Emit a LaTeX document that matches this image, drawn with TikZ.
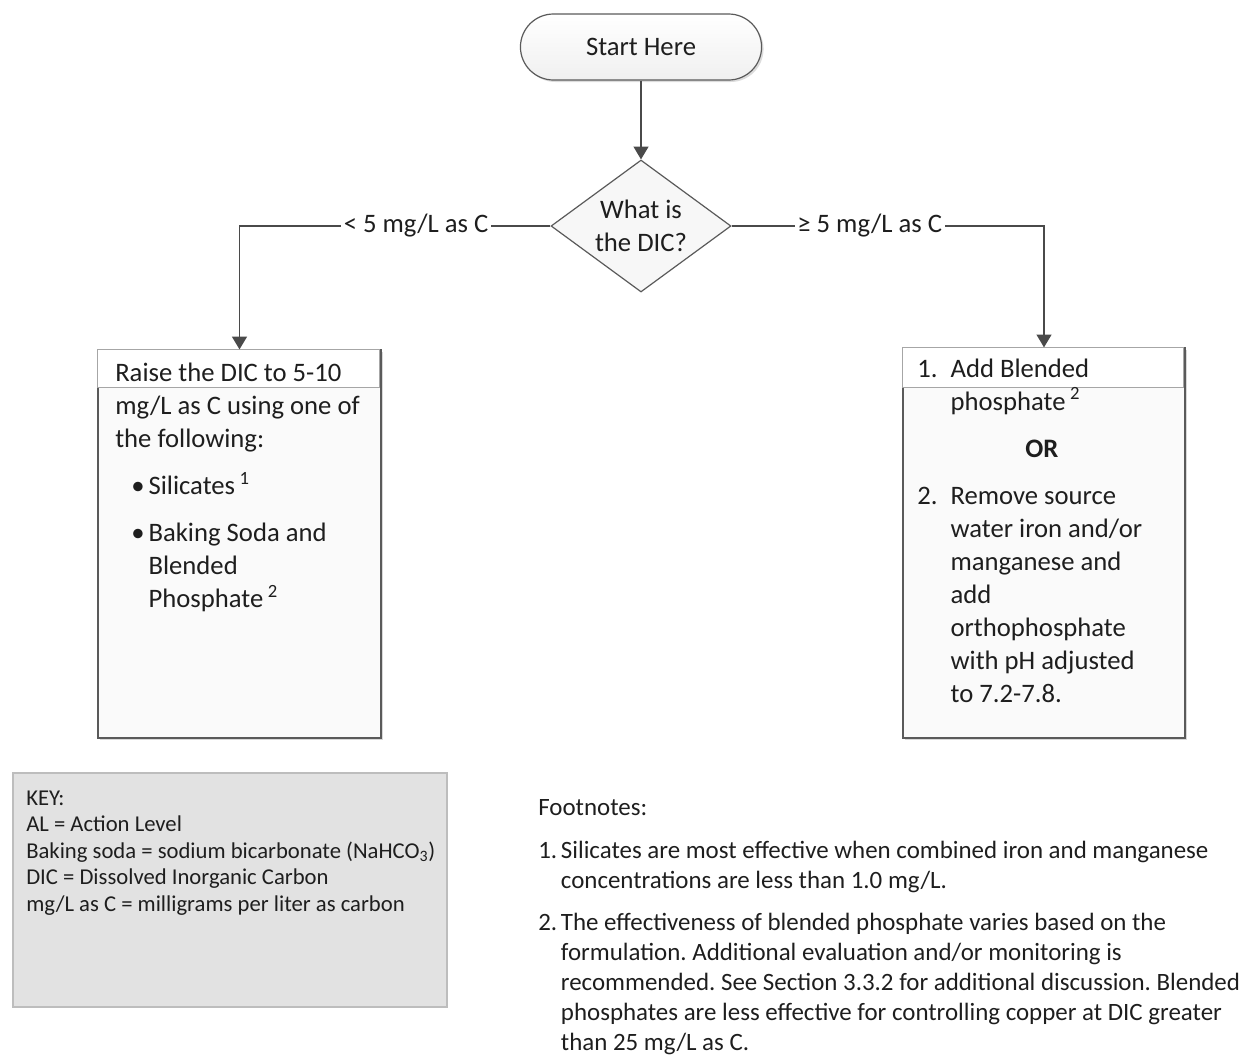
\documentclass[tikz,border=0pt]{standalone}
\usepackage{fontspec}
\setmainfont{Carlito}
\frenchspacing
\usetikzlibrary{arrows.meta,shapes.geometric,shapes.misc,shadows}

\definecolor{linegray}{HTML}{4A4A4A}
\definecolor{edgegray}{HTML}{5A5A5A}
\definecolor{keyfill}{HTML}{E2E2E2}
\definecolor{keyedge}{HTML}{BDBDBD}
\definecolor{txt}{HTML}{1E1E1E}

\tikzset{
  px/.style={x=0.75pt,y=-0.75pt},
  bigfont/.style={font=\fontsize{20pt}{24.75pt}\selectfont, text=txt},
  keyfont/.style={font=\fontsize{17pt}{19.9pt}\selectfont, text=txt},
  notefont/.style={font=\fontsize{18.7pt}{22.4pt}\selectfont, text=txt},
  startbox/.style={rounded rectangle, draw=edgegray, line width=0.9pt,
    top color=white, bottom color=gray!12,
    drop shadow={shadow xshift=1.5pt, shadow yshift=-1.5pt, fill=gray!55},
    minimum width=187.5pt, minimum height=49.5pt, bigfont},
  decision/.style={diamond, draw=edgegray, line width=0.9pt, fill=gray!6,
    aspect=1.364, inner sep=0pt, minimum width=135pt, minimum height=99pt,
    align=center, bigfont},
  actionbox/.style={rectangle, draw=edgegray, line width=0.9pt, fill=gray!4,
    drop shadow={shadow xshift=1.5pt, shadow yshift=-1.5pt, fill=gray!60}},
  headband/.style={draw=gray!70, line width=0.6pt, fill=white},
  keybox/.style={rectangle, draw=keyedge, line width=0.8pt, fill=keyfill},
  blocktext/.style={inner sep=0pt, anchor=base west},
  conn/.style={draw=linegray, line width=1.3pt,
    -{Triangle[width=11pt,length=9.5pt]}},
  lbl/.style={fill=white, inner sep=2pt, bigfont}
}
% a left-aligned block whose baseline is that of its first line
\newenvironment{linesblock}{\begin{tabular}[t]{@{}l@{}}}{\end{tabular}}

\begin{document}
\begin{tikzpicture}[px]
\useasboundingbox (0,0) rectangle (1241,1054);

% flow shapes
\node[startbox] (start) at (641,47) {Start Here};
\node[decision] (dic) at (641,226) {What is\\the DIC?};

\node[actionbox, minimum width=212.25pt, minimum height=291pt] (lbox) at (239.5,544) {};
\draw[headband] (lbox.north west) rectangle ([xshift=-2pt,yshift=-28.5pt]lbox.north east);

\node[actionbox, minimum width=211.5pt, minimum height=292.5pt] (rbox) at (1044,543) {};
\draw[headband] (rbox.north west) rectangle ([xshift=-2pt,yshift=-30pt]rbox.north east);

% connectors
\draw[conn] (start.south) -- (dic.north);
\draw[conn] (dic.west) -| node[lbl, pos=0.216] (lowlbl) {< 5 mg/L as C} (lbox.north);
\draw[conn] (dic.east) -| node[lbl, pos=0.221] (highlbl) {≥ 5 mg/L as C} (rbox.north);

% text of the left action box
\node[blocktext, bigfont] (ltext) at (115,381) {\begin{linesblock}
Raise the DIC to 5-10\\
mg/L as C using one of\\
the following:\\[11pt]
\hspace*{12pt}\makebox[13pt][l]{\textbullet}Silicates\,\textsuperscript{1}\\[10.5pt]
\hspace*{12pt}\makebox[13pt][l]{\textbullet}Baking Soda and\\
\hspace*{25pt}Blended\\
\hspace*{25pt}Phosphate\,\textsuperscript{2}
\end{linesblock}};

% text of the right action box
\node[blocktext, bigfont] (rtext) at (917,377) {\begin{linesblock}
\makebox[25pt][l]{1.}Add Blended\\
\hspace*{25pt}phosphate\,\textsuperscript{2}\\[11pt]
\hspace*{81pt}\textbf{OR}\\[10.5pt]
\makebox[25pt][l]{2.}Remove source\\
\hspace*{25pt}water iron and/or\\
\hspace*{25pt}manganese and\\
\hspace*{25pt}add\\
\hspace*{25pt}orthophosphate\\
\hspace*{25pt}with pH adjusted\\
\hspace*{25pt}to 7.2-7.8.
\end{linesblock}};

% key
\node[keybox, minimum width=325.5pt, minimum height=175.5pt] (key) at (230,890) {};
\node[blocktext, keyfont] (keytext) at (26,805) {\begin{linesblock}
KEY:\\
AL = Action Level\\
Baking soda = sodium bicarbonate (NaHCO\textsubscript{3})\\
DIC = Dissolved Inorganic Carbon\\
mg/L as C = milligrams per liter as carbon
\end{linesblock}};

% footnotes
\node[blocktext, notefont] (notes) at (538,815) {\begin{linesblock}
Footnotes:\\[10.5pt]
\makebox[17pt][l]{1.}Silicates are most effective when combined iron and manganese\\
\hspace*{17pt}concentrations are less than 1.0 mg/L.\\[9pt]
\makebox[17pt][l]{2.}The effectiveness of blended phosphate varies based on the\\
\hspace*{17pt}formulation. Additional evaluation and/or monitoring is\\
\hspace*{17pt}recommended. See Section 3.3.2 for additional discussion. Blended\\
\hspace*{17pt}phosphates are less effective for controlling copper at DIC greater\\
\hspace*{17pt}than 25 mg/L as C.
\end{linesblock}};
\end{tikzpicture}
\end{document}
